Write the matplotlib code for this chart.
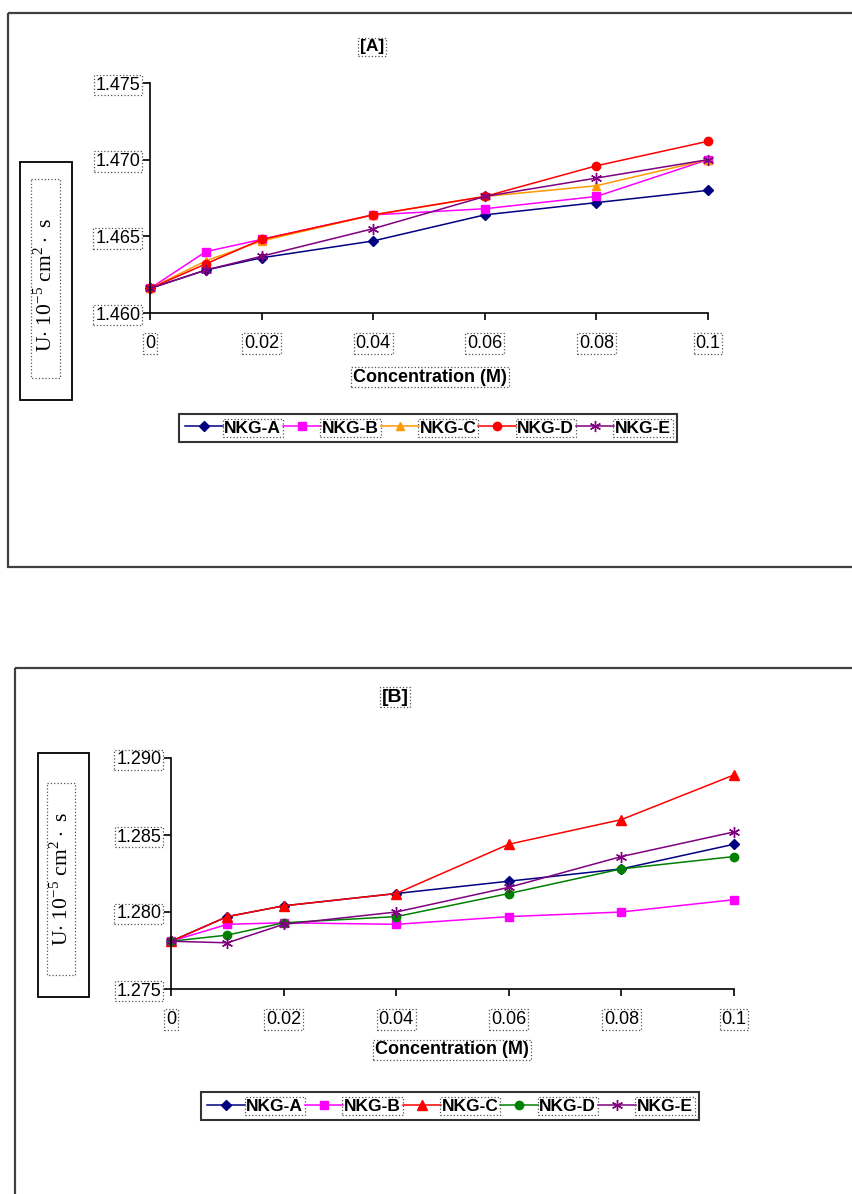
import matplotlib
matplotlib.use('Agg')
import matplotlib.pyplot as plt
from matplotlib.patches import Rectangle

plt.rcParams['font.family'] = ['Liberation Sans', 'DejaVu Sans']
plt.rcParams['mathtext.fontset'] = 'custom'
plt.rcParams['mathtext.rm'] = 'Liberation Serif'

W, H = 852, 1194

# concentration (M)
conc = [0, 0.01, 0.02, 0.04, 0.06, 0.08, 0.1]
xticks = [0, 0.02, 0.04, 0.06, 0.08, 0.1]
xtick_labels = ['0', '0.02', '0.04', '0.06', '0.08', '0.1']

# panel A values
a_nkg_a = [1.4616, 1.4628, 1.4636, 1.4647, 1.4664, 1.4672, 1.4680]
a_nkg_b = [1.4616, 1.4640, 1.4648, 1.4664, 1.4668, 1.4676, 1.4700]
a_nkg_c = [1.4616, 1.4634, 1.4647, 1.4664, 1.4676, 1.4683, 1.4700]
a_nkg_d = [1.4616, 1.4632, 1.4648, 1.4664, 1.4676, 1.4696, 1.4712]
a_nkg_e = [1.4616, 1.4628, 1.4637, 1.4655, 1.4676, 1.4688, 1.4700]
a_yticks = [1.460, 1.465, 1.470, 1.475]

# panel B values
b_nkg_a = [1.2781, 1.2797, 1.2804, 1.2812, 1.2820, 1.2828, 1.2844]
b_nkg_b = [1.2781, 1.2792, 1.2793, 1.2792, 1.2797, 1.2800, 1.2808]
b_nkg_c = [1.2781, 1.2797, 1.2804, 1.2812, 1.2844, 1.2860, 1.2889]
b_nkg_d = [1.2781, 1.2785, 1.2793, 1.2797, 1.2812, 1.2828, 1.2836]
b_nkg_e = [1.2781, 1.2780, 1.2792, 1.2800, 1.2816, 1.2836, 1.2852]
b_yticks = [1.275, 1.280, 1.285, 1.290]

labels = ['NKG-A', 'NKG-B', 'NKG-C', 'NKG-D', 'NKG-E']
asterisk = (6, 2, 0)

dotted = dict(boxstyle='square,pad=0.1', fc='none', ec='#555555', ls=':', lw=0.9)


def px_axes(fig, left, top, right, bottom):
    return fig.add_axes([left / W, 1 - bottom / H, (right - left) / W, (bottom - top) / H])


def style_axes(ax, yticks):
    ax.set_xlim(0, 0.1)
    ax.set_ylim(yticks[0], yticks[-1])
    ax.set_xticks(xticks)
    ax.set_xticklabels(xtick_labels)
    ax.set_yticks(yticks)
    ax.set_yticklabels(['%.3f' % v for v in yticks])
    for s in ['top', 'right']:
        ax.spines[s].set_visible(False)
    for s in ['left', 'bottom']:
        ax.spines[s].set_linewidth(1.2)
    ax.tick_params(axis='both', direction='out', length=5, width=1.2, labelsize=13)
    ax.tick_params(axis='x', pad=11)
    ax.tick_params(axis='y', pad=2)
    for lbl in ax.get_xticklabels() + ax.get_yticklabels():
        lbl.set_bbox(dotted)
    ax.patch.set_alpha(0)


def add_legend(ax, cx, cy):
    leg = ax.legend(loc='center', bbox_to_anchor=(cx / W, 1 - cy / H),
                    bbox_transform=fig.transFigure, ncol=5, frameon=True,
                    fancybox=False, edgecolor='black', handlelength=2.2,
                    handletextpad=0.05, columnspacing=0.1, borderpad=0.35,
                    prop={'weight': 'bold', 'size': 12.5})
    leg.get_frame().set_linewidth(1.5)
    for t in leg.get_texts():
        t.set_bbox(dotted)
    return leg


fig = plt.figure(figsize=(W / 100, H / 100), dpi=100)

bg = fig.add_axes([0, 0, 1, 1])
bg.set_xlim(0, W)
bg.set_ylim(H, 0)
bg.axis('off')
bg.set_zorder(-1)

# outer frames
bg.add_patch(Rectangle((8, 13), 870, 554, fill=False, ec='#404040', lw=1.6))
bg.add_patch(Rectangle((15, 668), 870, 560, fill=False, ec='#404040', lw=1.6))

# y label boxes
ylab = r'U$\cdot$ 10$^{-5}$ cm$^{2}\cdot$ s'
bg.add_patch(Rectangle((20, 162), 52, 238, fill=False, ec='black', lw=1.3))
bg.add_patch(Rectangle((31, 179), 29, 199, fill=False, ec='#555555', ls=':', lw=0.9))
bg.text(45, 285, ylab, rotation=90, ha='center', va='center', fontsize=15.5,
        family='Liberation Serif')
bg.add_patch(Rectangle((38, 753), 51, 244, fill=False, ec='black', lw=1.3))
bg.add_patch(Rectangle((47, 783), 28, 192, fill=False, ec='#555555', ls=':', lw=0.9))
bg.text(62, 879, ylab, rotation=90, ha='center', va='center', fontsize=15.5,
        family='Liberation Serif')

# titles and x labels
bg.text(372, 47, '[A]', ha='center', va='center', fontsize=12.5, weight='bold', bbox=dotted)
bg.text(395, 697, '[B]', ha='center', va='center', fontsize=14, weight='bold', bbox=dotted)
bg.text(430, 377, 'Concentration (M)', ha='center', va='center', fontsize=13,
        weight='bold', bbox=dotted)
bg.text(452, 1050, 'Concentration (M)', ha='center', va='center', fontsize=13,
        weight='bold', bbox=dotted)

# panel A
axA = px_axes(fig, 150, 83, 708, 313)
axA.plot(conc, a_nkg_a, color='#000080', marker='D', ms=5, lw=1.1, label=labels[0])
axA.plot(conc, a_nkg_b, color='#FF00FF', marker='s', ms=6, lw=1.1, label=labels[1])
axA.plot(conc, a_nkg_c, color='#FF9900', marker='^', ms=6, lw=1.1, label=labels[2])
axA.plot(conc, a_nkg_d, color='#FF0000', marker='o', ms=6, lw=1.1, label=labels[3])
axA.plot(conc, a_nkg_e, color='#800080', marker=asterisk, ms=8, lw=1.1, label=labels[4])
style_axes(axA, a_yticks)
for l in axA.get_lines():
    l.set_clip_on(False)
add_legend(axA, 428, 428)

# panel B
axB = px_axes(fig, 171, 758, 734, 989)
axB.plot(conc, b_nkg_a, color='#000080', marker='D', ms=5, lw=1.1, label=labels[0])
axB.plot(conc, b_nkg_b, color='#FF00FF', marker='s', ms=6, lw=1.1, label=labels[1])
axB.plot(conc, b_nkg_c, color='#FF0000', marker='^', ms=7, lw=1.1, label=labels[2])
axB.plot(conc, b_nkg_d, color='#008000', marker='o', ms=6, lw=1.1, label=labels[3])
axB.plot(conc, b_nkg_e, color='#800080', marker=asterisk, ms=8, lw=1.1, label=labels[4])
style_axes(axB, b_yticks)
for l in axB.get_lines():
    l.set_clip_on(False)
add_legend(axB, 450, 1106)

fig.savefig('out.png', dpi=100)
